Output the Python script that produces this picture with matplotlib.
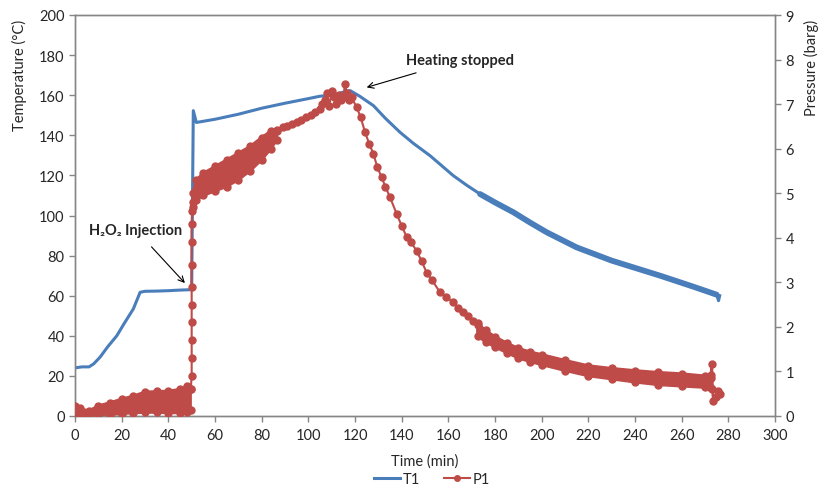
"""Reactor temperature / pressure trace after H2O2 injection."""
import matplotlib
matplotlib.use('Agg')
from matplotlib import pyplot as plt
from matplotlib.lines import Line2D

plt.rcParams['font.family'] = ['Lato', 'DejaVu Sans']

# ---- T1: temperature (degC)
t1_time = [0, 3, 6, 8, 10.7, 14, 17.9, 21, 25, 27.9, 30, 35, 40, 45, 49.8,
           50, 50.7, 52, 55, 60, 70, 80, 90, 100, 105, 110, 115, 117.9,
           122, 127.9, 133, 139.3, 145, 152.2, 157, 162.1, 168, 173.6,
           180, 187.9, 195, 202.2, 215, 230, 250.7, 265, 275, 275.8, 276.3]
t1_temp = [24, 24.5, 24.5, 26, 29.3, 34.5, 40, 46, 53.4, 61.7, 62.2, 62.3, 62.5, 62.8, 63,
           63, 152.3, 146.4, 147, 148, 150.5, 153.5, 156, 158.3, 159.5, 160, 161.5, 162.3,
           159.5, 154.8, 148.5, 141.5, 136, 129.8, 125, 119.9, 115, 110.7,
           106.5, 101.6, 96.5, 91.6, 84.1, 77.5, 70, 64.5, 60.5, 57.5, 60]

# ---- P1: pressure (barg), sparse individual readings
p1_time = [49.6, 50, 50, 50, 50, 50, 50, 50, 50, 50, 50.3, 50.6,
           86.5, 89, 91, 93, 95, 97, 99, 101, 103, 105, 106, 107, 108, 109, 110,
           111, 112, 113, 114, 115, 115.7, 116.5, 117.5, 118.5, 120.7, 122.4,
           124.3, 126.1, 127.9, 129.6, 131.4, 133, 135, 137.9, 140, 142.2, 144,
           146.4, 148.6, 150.7, 153, 156.4, 159, 162.1, 164, 166.4, 168.5, 170.7, 172.5]
p1_pres = [0.6, 0.9, 1.3, 1.7, 2.1, 2.5, 2.9, 3.4, 3.9, 4.3, 4.6, 4.8,
           6.4, 6.48, 6.5, 6.55, 6.59, 6.65, 6.7, 6.76, 6.82, 6.9, 7.0, 7.1, 7.25, 6.95, 7.3,
           7.15, 7.0, 7.2, 7.1, 7.15, 7.45, 7.25, 7.1, 7.15, 6.93, 6.71,
           6.37, 6.11, 5.88, 5.58, 5.36, 5.15, 4.91, 4.53, 4.27, 4.01, 3.9,
           3.71, 3.47, 3.22, 3.05, 2.78, 2.68, 2.55, 2.42, 2.33, 2.25, 2.14, 2.05]

# dense scatter bands of P1 (lower / upper edge)
bandA_time = [0, 2, 4, 6, 10, 15, 20, 25, 30, 35, 40, 45, 48, 49.5]
bandA_lo = [0.02, 0.05, 0.02, 0.0, 0.0, 0.03, 0.05, 0.07, 0.08, 0.08, 0.07, 0.07, 0.1, 0.13]
bandA_hi = [0.22, 0.18, 0.08, 0.12, 0.23, 0.3, 0.38, 0.45, 0.54, 0.55, 0.56, 0.6, 0.67, 0.6]

bandC_time = [50.5, 52, 55, 60, 65, 70, 75, 80, 84, 86.5]
bandC_lo = [4.7, 4.85, 4.95, 5.05, 5.15, 5.3, 5.5, 5.75, 6.0, 6.2]
bandC_hi = [5.0, 5.3, 5.45, 5.6, 5.75, 5.9, 6.05, 6.25, 6.4, 6.42]

bandE_time = [172.5, 176, 180, 185, 190, 195, 200, 210, 220, 230, 240, 250, 260, 270, 272.5]
bandE_lo = [1.8, 1.66, 1.55, 1.42, 1.3, 1.22, 1.15, 1.02, 0.9, 0.83, 0.76, 0.7, 0.67, 0.64, 0.62]
bandE_hi = [2.08, 1.92, 1.78, 1.64, 1.52, 1.44, 1.38, 1.25, 1.13, 1.07, 1.02, 0.98, 0.95, 0.9, 0.92]

end_time = [272.5, 272.9, 273.2, 273.6, 274.5, 275.5, 276.4]
end_pres = [0.85, 1.17, 0.6, 0.34, 0.42, 0.55, 0.49]

BLUE = '#4a7ebb'
RED = '#be4b48'
GREY = '#868686'
TXT = '#262626'


def plotTrace():
    fig = plt.figure(figsize=(8.19, 4.89), dpi=100)
    ax = fig.add_axes([75 / 819, 1 - 417 / 489, 700 / 819, 401 / 489])
    ax2 = ax.twinx()

    # temperature
    ax.plot(t1_time, t1_temp, '-', color=BLUE, lw=2.2, solid_joinstyle='round')
    i0 = t1_time.index(173.6)
    ax.plot(t1_time[i0:-2], t1_temp[i0:-2], '-', color=BLUE, lw=4.2, solid_capstyle='round')

    # pressure: dense parts as filled envelopes with dotted edges
    for bt, lo, hi in [(bandA_time, bandA_lo, bandA_hi),
                       (bandC_time, bandC_lo, bandC_hi),
                       (bandE_time, bandE_lo, bandE_hi)]:
        ax2.fill(bt + bt[::-1], lo + hi[::-1], facecolor=RED, edgecolor=RED, lw=2, zorder=2)
        ax2.plot(bt, lo, 'o', color=RED, ms=5, zorder=3)
        ax2.plot(bt, hi, 'o', color=RED, ms=5, zorder=3)
    ax2.plot(p1_time, p1_pres, 'o-', color=RED, ms=5, lw=1.5, zorder=3)
    ax2.plot(end_time, end_pres, 'o-', color=RED, ms=5, lw=2, zorder=3)

    ax.set_xlim(0, 300)
    ax.set_ylim(0, 200)
    ax2.set_ylim(0, 9)
    ax.set_xticks(range(0, 301, 20))
    ax.set_yticks(range(0, 201, 20))
    ax2.set_yticks(range(0, 10))

    for a in (ax, ax2):
        for s in a.spines.values():
            s.set_color(GREY)
            s.set_linewidth(1.0)
        a.tick_params(colors=GREY, labelcolor=TXT, labelsize=10.5, length=4, width=1, direction='out')
    ax.tick_params(axis='x', pad=5)

    ax.set_xlabel('Time (min)', fontsize=10.5, color=TXT, labelpad=8)
    fig.text(19 / 819, 1 - 20 / 489, 'Temperature (°C)', rotation=90, ha='center', va='top',
             fontsize=10.5, color=TXT)
    fig.text(811 / 819, 1 - 20 / 489, 'Pressure (barg)', rotation=90, ha='center', va='top',
             fontsize=10.5, color=TXT)

    ax.annotate('H₂O₂ Injection', xy=(47.1, 66.3), xytext=(26.1, 92.8), ha='center', va='center',
                fontsize=10.5, fontweight='bold', color=TXT,
                arrowprops=dict(arrowstyle='->', color='black', lw=0.8, shrinkA=7, shrinkB=0))
    ax.annotate('Heating stopped', xy=(125, 163.9), xytext=(165, 177.6), ha='center', va='center',
                fontsize=10.5, fontweight='bold', color=TXT,
                arrowprops=dict(arrowstyle='->', color='black', lw=0.8, shrinkA=8, shrinkB=0))

    handles = [Line2D([], [], color=BLUE, lw=2.2),
               Line2D([], [], color=RED, lw=1.5, marker='o', ms=4)]
    fig.legend(handles, ['T1', 'P1'], loc='center', bbox_to_anchor=(432 / 819, 1 - 480 / 489),
               ncol=2, frameon=False, fontsize=10.5, handlelength=1.8, handletextpad=0.2,
               columnspacing=1.6, labelcolor=TXT, borderpad=0.1)

    fig.savefig('out.png', dpi=100)
    plt.close(fig)


if __name__ == '__main__':
    plotTrace()
